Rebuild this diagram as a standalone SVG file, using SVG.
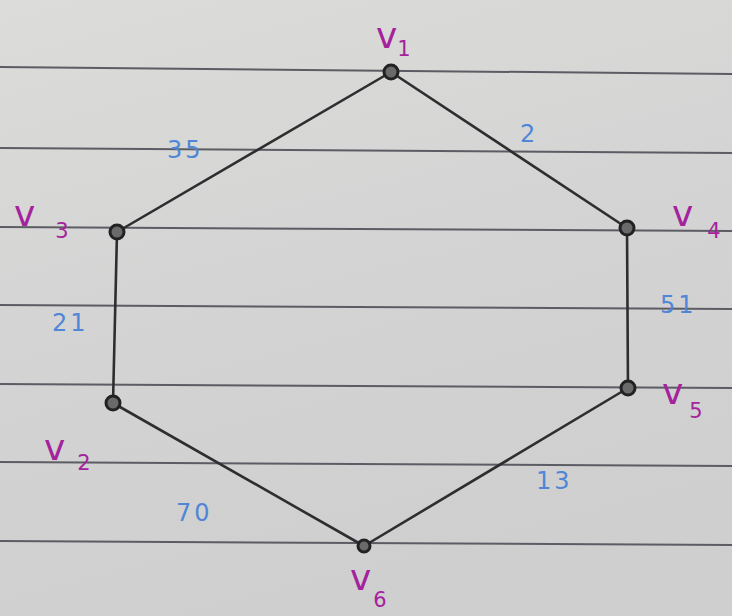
<svg xmlns="http://www.w3.org/2000/svg" width="732" height="616" viewBox="0 0 732 616">
<defs>
<linearGradient id="paper" x1="0" y1="0" x2="0.3" y2="1">
<stop offset="0" stop-color="#dcdcda"/>
<stop offset="0.5" stop-color="#d4d4d4"/>
<stop offset="1" stop-color="#cfcfd0"/>
</linearGradient>
<style>
.rule{stroke:#5c5c64;stroke-width:2;fill:none}
.edge{stroke:#2e2e30;stroke-width:2.6;fill:none;stroke-linecap:round}
.node circle{fill:#6a6a6a;stroke:#222;stroke-width:3}
.lbl{font-family:"DejaVu Sans",sans-serif;fill:#a4229c;font-size:36px}
.sub{font-size:21px}
.w{font-family:"DejaVu Sans",sans-serif;fill:#4f86d6;font-size:24px;letter-spacing:3px}
</style>
</defs>
<rect width="732" height="616" fill="url(#paper)"/>
<g id="rules">
<line class="rule" x1="0" y1="67" x2="732" y2="74"/>
<line class="rule" x1="0" y1="148" x2="732" y2="153"/>
<line class="rule" x1="0" y1="227" x2="732" y2="231"/>
<line class="rule" x1="0" y1="305" x2="732" y2="309"/>
<line class="rule" x1="0" y1="384" x2="732" y2="388"/>
<line class="rule" x1="0" y1="462" x2="732" y2="466"/>
<line class="rule" x1="0" y1="541" x2="732" y2="545"/>
</g>
<g id="connectors">
<line class="edge" x1="391" y1="72" x2="117" y2="232"/>
<line class="edge" x1="391" y1="72" x2="627" y2="228"/>
<line class="edge" x1="117" y1="232" x2="113" y2="403"/>
<line class="edge" x1="627" y1="228" x2="628" y2="388"/>
<line class="edge" x1="113" y1="403" x2="364" y2="546"/>
<line class="edge" x1="628" y1="388" x2="364" y2="546"/>
<text class="w" x="167" y="158">35</text>
<text class="w" x="520" y="142">2</text>
<text class="w" x="52" y="331">21</text>
<text class="w" x="660" y="313">51</text>
<text class="w" x="176" y="521" font-size="30">70</text>
<text class="w" x="536" y="489">13</text>
</g>
<g id="v1" class="node"><circle cx="391" cy="72" r="7"/><text class="lbl" x="376" y="48">v<tspan class="sub" dy="8">1</tspan></text></g>
<g id="v3" class="node"><circle cx="117" cy="232" r="7"/><text class="lbl" x="14" y="226">v<tspan class="sub" dy="12" dx="20">3</tspan></text></g>
<g id="v4" class="node"><circle cx="627" cy="228" r="7"/><text class="lbl" x="672" y="226">v<tspan class="sub" dy="12" dx="14">4</tspan></text></g>
<g id="v2" class="node"><circle cx="113" cy="403" r="7"/><text class="lbl" x="44" y="460">v<tspan class="sub" dy="10" dx="12">2</tspan></text></g>
<g id="v5" class="node"><circle cx="628" cy="388" r="7"/><text class="lbl" x="662" y="404">v<tspan class="sub" dy="14" dx="6">5</tspan></text></g>
<g id="v6" class="node"><circle cx="364" cy="546" r="6"/><text class="lbl" x="350" y="590">v<tspan class="sub" dy="17" dx="2">6</tspan></text></g>
</svg>
